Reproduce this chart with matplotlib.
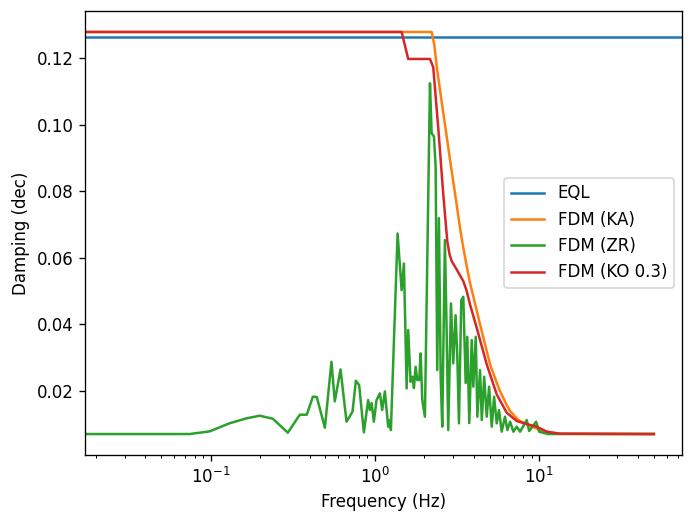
import numpy as np
import matplotlib.pyplot as plt

# frequency (Hz) / damping (dec) pairs
eql_damping = 0.1263

ka_freq = [0.0172, 2.216, 2.30, 2.388, 2.61, 2.936, 3.148, 3.299, 3.455, 3.624,
           3.796, 4.169, 4.37, 4.80, 5.03, 5.52, 5.78, 6.35, 6.66, 7.31, 7.66,
           8.41, 9.68, 11.14, 12.2, 13.4, 50.0]
ka_damp = [0.1278, 0.1278, 0.1240, 0.1168, 0.1035, 0.0860, 0.0760, 0.0690, 0.0630,
           0.0575, 0.0525, 0.0442, 0.0400, 0.0320, 0.0280, 0.0225, 0.0200, 0.0158,
           0.0140, 0.0118, 0.0110, 0.0100, 0.0087, 0.0078, 0.0074, 0.0072, 0.0071]

ko_freq = [0.0172, 1.455, 1.596, 2.165, 2.267, 2.432, 2.61, 2.76, 2.85, 2.936,
           3.148, 3.455, 3.624, 3.796, 4.169, 4.80, 5.52, 6.35, 7.31, 8.41, 9.68,
           11.14, 13.4, 50.0]
ko_damp = [0.1278, 0.1278, 0.1197, 0.1197, 0.1172, 0.0990, 0.0790, 0.0650, 0.0610,
           0.0590, 0.0565, 0.0530, 0.0500, 0.0460, 0.0390, 0.0280, 0.0190, 0.0135,
           0.0110, 0.0101, 0.0093, 0.0078, 0.0072, 0.0071]

zr_freq = [0.0172, 0.0745, 0.0986, 0.130, 0.165, 0.199, 0.239, 0.295, 0.349, 0.385,
           0.419, 0.443, 0.496, 0.544, 0.570, 0.618, 0.672, 0.731, 0.766, 0.802,
           0.857, 0.910, 0.932, 0.955, 0.986, 1.024, 1.073, 1.108, 1.151, 1.205,
           1.234, 1.252, 1.375, 1.455, 1.503, 1.561, 1.596, 1.650, 1.698, 1.729,
           1.771, 1.811, 1.862, 1.899, 1.944, 2.017, 2.165, 2.216, 2.290, 2.344,
           2.398, 2.455, 2.516, 2.572, 2.670, 2.735, 2.797, 2.907, 3.000, 3.102,
           3.177, 3.251, 3.358, 3.455, 3.572, 3.655, 3.757, 3.888, 3.976, 4.115,
           4.208, 4.37, 4.478, 4.63, 4.80, 4.96, 5.15, 5.32, 5.52, 5.70, 5.92,
           6.20, 6.41, 6.66, 6.97, 7.31, 7.66, 8.41, 8.70, 9.59, 10.0, 11.3, 50.0]
zr_damp = [0.0071, 0.0071, 0.0079, 0.0103, 0.0118, 0.0126, 0.0117, 0.0075, 0.0129,
           0.0129, 0.0183, 0.0182, 0.0090, 0.0288, 0.0169, 0.0265, 0.0108, 0.0138,
           0.0231, 0.0218, 0.0076, 0.0173, 0.0143, 0.0164, 0.0108, 0.0173, 0.0193,
           0.0143, 0.0199, 0.0093, 0.0113, 0.0083, 0.0673, 0.0503, 0.0583, 0.0208,
           0.0383, 0.0228, 0.0243, 0.0209, 0.0273, 0.0233, 0.0233, 0.0313, 0.0173,
           0.0123, 0.1124, 0.0974, 0.0964, 0.0874, 0.0263, 0.0719, 0.0243, 0.0093,
           0.0653, 0.0383, 0.0083, 0.0463, 0.0283, 0.0428, 0.0303, 0.0103, 0.0473,
           0.0483, 0.0224, 0.0363, 0.0104, 0.0353, 0.0213, 0.0363, 0.0123, 0.0263,
           0.0113, 0.0243, 0.0123, 0.0213, 0.0093, 0.0183, 0.0103, 0.0143, 0.0078,
           0.0123, 0.0083, 0.0108, 0.0078, 0.0093, 0.0078, 0.0113, 0.0080, 0.0108,
           0.0078, 0.0071, 0.0071]

fig, ax = plt.subplots(figsize=(692 / 120, 523 / 120), dpi=120)
fig.subplots_adjust(left=0.123, right=0.986, bottom=0.130, top=0.979)

ax.axhline(eql_damping, color='C0', label='EQL')
ax.plot(ka_freq, ka_damp, color='C1', label='FDM (KA)')
ax.plot(zr_freq, zr_damp, color='C2', label='FDM (ZR)')
ax.plot(ko_freq, ko_damp, color='C3', label='FDM (KO 0.3)')

ax.set_xscale('log')
ax.set_xlim(0.0172, 74.5)
ax.set_ylim(0.0008, 0.1341)
ax.set_xlabel('Frequency (Hz)')
ax.set_ylabel('Damping (dec)')
ax.legend(loc='center right')

fig.savefig('out.png')
